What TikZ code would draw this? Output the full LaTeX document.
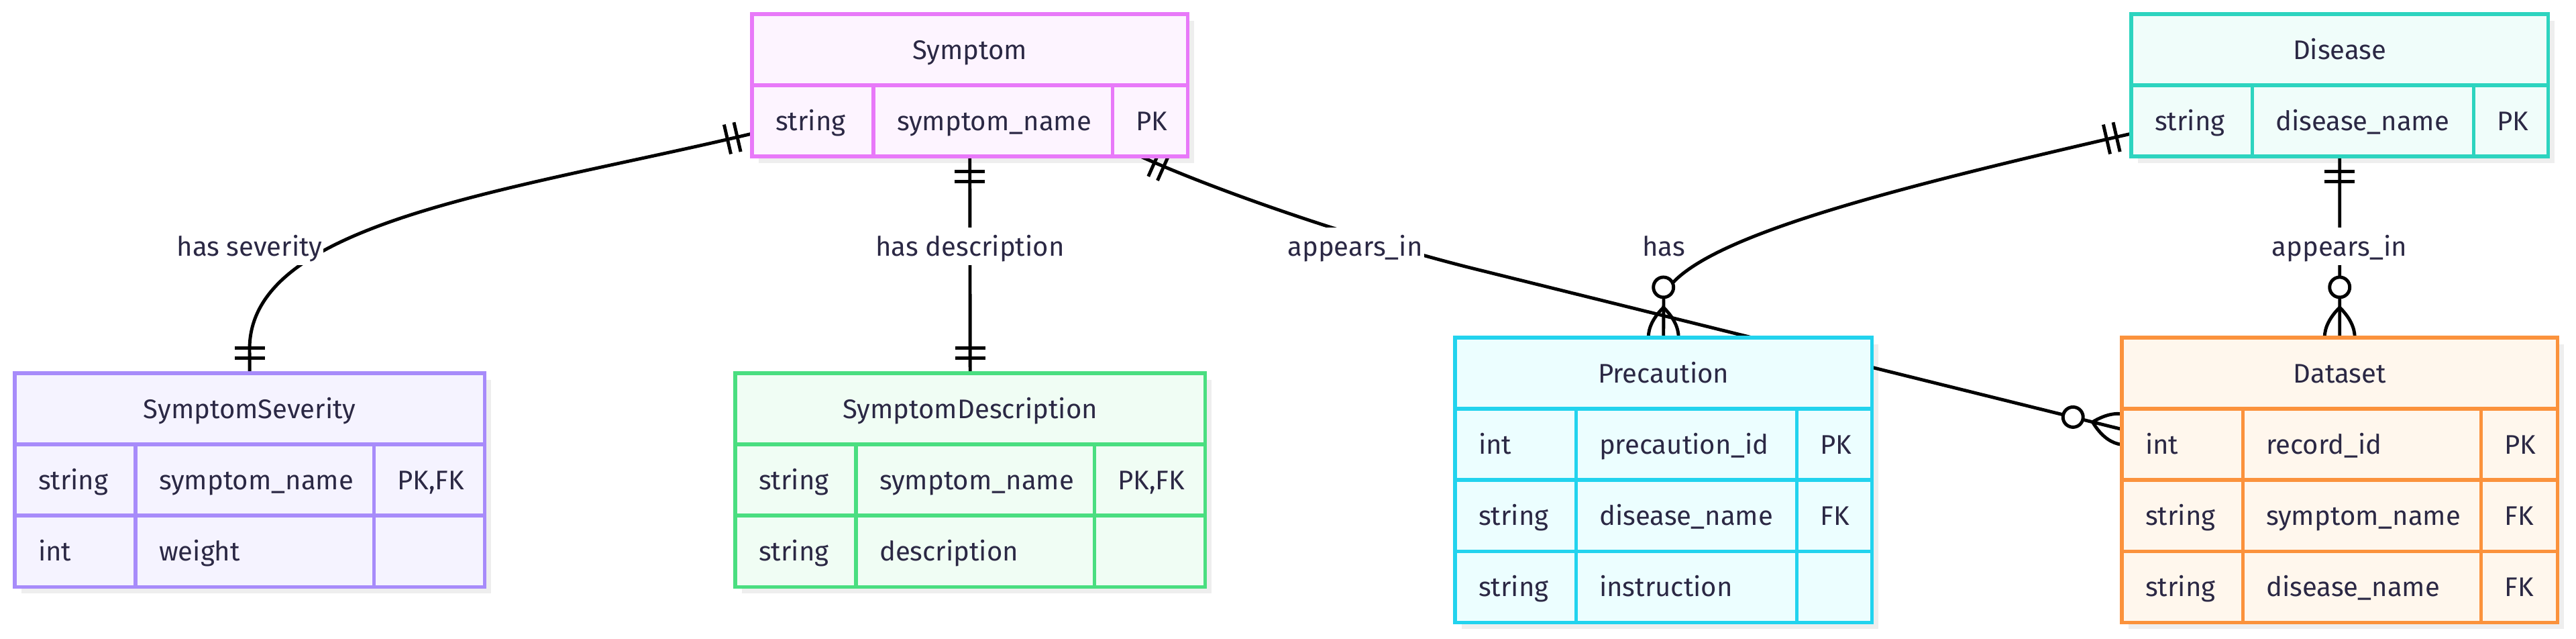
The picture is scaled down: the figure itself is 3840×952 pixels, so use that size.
\documentclass[tikz,border=0pt]{standalone}
\usepackage{fontspec}
\setmainfont{Fira Sans}

\definecolor{inkc}{HTML}{2B2844}
\definecolor{symline}{HTML}{E879F9}
\definecolor{symfill}{HTML}{FDF4FF}
\definecolor{disline}{HTML}{2DD4BF}
\definecolor{disfill}{HTML}{F0FDFA}
\definecolor{sevline}{HTML}{A78BFA}
\definecolor{sevfill}{HTML}{F5F3FF}
\definecolor{dscline}{HTML}{4ADE80}
\definecolor{dscfill}{HTML}{F0FDF4}
\definecolor{preline}{HTML}{22D3EE}
\definecolor{prefill}{HTML}{ECFEFF}
\definecolor{datline}{HTML}{FB923C}
\definecolor{datfill}{HTML}{FFF7ED}
\definecolor{shadowc}{HTML}{EEEEEE}

\pgfdeclarelayer{shadow}
\pgfdeclarelayer{links}
\pgfsetlayers{shadow,links,main}

\tikzset{
  head/.style={anchor=north west, minimum width=#1, minimum height=1.06cm,
    text height=0.36cm, text depth=0.07cm, inner sep=0pt, outer sep=0pt,
    line width=1.5pt, text=inkc},
  cell/.style={anchor=north west, text width=#1, minimum height=1.06cm,
    text height=0.36cm, text depth=0.07cm, inner xsep=0.35cm, inner ysep=0pt,
    outer sep=0pt, align=left, line width=1.5pt, text=inkc},
  rel/.style={fill=white, inner xsep=0.02cm, inner ysep=0.06cm,
    text height=0.36cm, text depth=0.07cm, text=inkc},
  link/.style={line width=1.4pt},
  dropfill/.style={fill=shadowc},
  onlyone/.pic={
    \draw[link] (0.225cm,-0.225cm) -- (0.225cm,0.225cm)
                (0.375cm,-0.225cm) -- (0.375cm,0.225cm);
  },
  zeromany/.pic={
    \draw[link] (0.45cm,0cm) .. controls (0.15cm,0.3cm) and (-0.15cm,0.3cm) .. (-0.45cm,0cm)
                .. controls (-0.15cm,-0.3cm) and (0.15cm,-0.3cm) .. (0.45cm,0cm);
    \draw[link, fill=white] (0.75cm,0cm) circle (0.15cm);
  },
}

\begin{document}
\begin{tikzpicture}[x=0.01cm, y=-0.01cm, font=\fontsize{11.4}{13.7}\selectfont]
  \useasboundingbox (0,0) rectangle (3840,952);

  % Symptom
  \begin{scope}[every node/.append style={draw=symline, fill=symfill}]
    \node[head=6.49cm] (sym) at (1121,21) {Symptom};
    \node[cell=1.11cm] (sym-t) at (sym.south west) {string};
    \node[cell=2.86cm] (sym-n) at (sym-t.north east) {symptom\_name};
    \node[cell=0.42cm] (sym-k) at (sym-n.north east) {PK};
  \end{scope}

  % Disease
  \begin{scope}[every node/.append style={draw=disline, fill=disfill}]
    \node[head=6.21cm] (dis) at (3177,21) {Disease};
    \node[cell=1.10cm] (dis-t) at (dis.south west) {string};
    \node[cell=2.60cm] (dis-n) at (dis-t.north east) {disease\_name};
    \node[cell=0.41cm] (dis-k) at (dis-n.north east) {PK};
  \end{scope}

  % SymptomSeverity
  \begin{scope}[every node/.append style={draw=sevline, fill=sevfill}]
    \node[head=7.00cm] (sev) at (22,556) {SymptomSeverity};
    \node[cell=1.10cm] (sev-t1) at (sev.south west) {string};
    \node[cell=2.85cm] (sev-n1) at (sev-t1.north east) {symptom\_name};
    \node[cell=0.95cm] (sev-k1) at (sev-n1.north east) {PK,FK};
    \node[cell=1.10cm] (sev-t2) at (sev-t1.south west) {int};
    \node[cell=2.85cm] (sev-n2) at (sev-t2.north east) {weight};
    \node[cell=0.95cm] (sev-k2) at (sev-n2.north east) {};
  \end{scope}

  % SymptomDescription
  \begin{scope}[every node/.append style={draw=dscline, fill=dscfill}]
    \node[head=7.00cm] (sdesc) at (1096,556) {SymptomDescription};
    \node[cell=1.10cm] (sdesc-t1) at (sdesc.south west) {string};
    \node[cell=2.85cm] (sdesc-n1) at (sdesc-t1.north east) {symptom\_name};
    \node[cell=0.95cm] (sdesc-k1) at (sdesc-n1.north east) {PK,FK};
    \node[cell=1.10cm] (sdesc-t2) at (sdesc-t1.south west) {string};
    \node[cell=2.85cm] (sdesc-n2) at (sdesc-t2.north east) {description};
    \node[cell=0.95cm] (sdesc-k2) at (sdesc-n2.north east) {};
  \end{scope}

  % Precaution
  \begin{scope}[every node/.append style={draw=preline, fill=prefill}]
    \node[head=6.21cm] (pre) at (2169,503) {Precaution};
    \node[cell=1.10cm] (pre-t1) at (pre.south west) {int};
    \node[cell=2.59cm] (pre-n1) at (pre-t1.north east) {precaution\_id};
    \node[cell=0.42cm] (pre-k1) at (pre-n1.north east) {PK};
    \node[cell=1.10cm] (pre-t2) at (pre-t1.south west) {string};
    \node[cell=2.59cm] (pre-n2) at (pre-t2.north east) {disease\_name};
    \node[cell=0.42cm] (pre-k2) at (pre-n2.north east) {FK};
    \node[cell=1.10cm] (pre-t3) at (pre-t2.south west) {string};
    \node[cell=2.59cm] (pre-n3) at (pre-t3.north east) {instruction};
    \node[cell=0.42cm] (pre-k3) at (pre-n3.north east) {};
  \end{scope}

  % Dataset
  \begin{scope}[every node/.append style={draw=datline, fill=datfill}]
    \node[head=6.49cm] (dat) at (3163,503) {Dataset};
    \node[cell=1.10cm] (dat-t1) at (dat.south west) {int};
    \node[cell=2.85cm] (dat-n1) at (dat-t1.north east) {record\_id};
    \node[cell=0.44cm] (dat-k1) at (dat-n1.north east) {PK};
    \node[cell=1.10cm] (dat-t2) at (dat-t1.south west) {string};
    \node[cell=2.85cm] (dat-n2) at (dat-t2.north east) {symptom\_name};
    \node[cell=0.44cm] (dat-k2) at (dat-n2.north east) {FK};
    \node[cell=1.10cm] (dat-t3) at (dat-t2.south west) {string};
    \node[cell=2.85cm] (dat-n3) at (dat-t3.north east) {disease\_name};
    \node[cell=0.44cm] (dat-k3) at (dat-n3.north east) {FK};
  \end{scope}

  \begin{pgfonlayer}{shadow}
    \fill[dropfill] ([shift={(0.1cm,-0.1cm)}]sym.north west) rectangle ([shift={(0.1cm,-0.1cm)}]sym-k.south east);
    \fill[dropfill] ([shift={(0.1cm,-0.1cm)}]dis.north west) rectangle ([shift={(0.1cm,-0.1cm)}]dis-k.south east);
    \fill[dropfill] ([shift={(0.1cm,-0.1cm)}]sev.north west) rectangle ([shift={(0.1cm,-0.1cm)}]sev-k2.south east);
    \fill[dropfill] ([shift={(0.1cm,-0.1cm)}]sdesc.north west) rectangle ([shift={(0.1cm,-0.1cm)}]sdesc-k2.south east);
    \fill[dropfill] ([shift={(0.1cm,-0.1cm)}]pre.north west) rectangle ([shift={(0.1cm,-0.1cm)}]pre-k3.south east);
    \fill[dropfill] ([shift={(0.1cm,-0.1cm)}]dat.north west) rectangle ([shift={(0.1cm,-0.1cm)}]dat-k3.south east);
  \end{pgfonlayer}

  \begin{pgfonlayer}{links}
    % Symptom -- SymptomSeverity
    \coordinate (sev-a) at ([yshift=-0.19cm]sym-t.west);
    \draw[link] (sev-a) .. controls (760,285) and (372,330) .. (372,520) -- (sev.north);
    \node[rel] (l-sev) at (372,367) {has severity};
    \pic[rotate=193] at (sev-a) {onlyone};
    \pic[rotate=90] at (sev.north) {onlyone};

    % Symptom -- SymptomDescription
    \coordinate (dsc-a) at (sym.south |- sym-n.south);
    \draw[link] (dsc-a) -- (sdesc.north);
    \node[rel] (l-dsc) at (1446,367) {has description};
    \pic[rotate=-90] at (dsc-a) {onlyone};
    \pic[rotate=90] at (sdesc.north) {onlyone};

    % Symptom -- Dataset
    \coordinate (app-a) at ([xshift=-0.14cm]sym-k.south);
    \coordinate (app-b) at ([yshift=0.225cm]dat-t1.west);
    \draw[link] (app-a) .. controls (1836,294) and (2054,365) .. (2200,401) -- (app-b);
    \node[rel] (l-app) at (2020,367) {appears\_in};
    \pic[rotate=-24] at (app-a) {onlyone};
    \pic[rotate=166] at (app-b) {zeromany};

    % Disease -- Precaution
    \coordinate (has-a) at ([yshift=-0.19cm]dis-t.west);
    \draw[link] (has-a) .. controls (2780,290) and (2520,360) .. (2480,440) -- (pre.north);
    \node[rel] (l-has) at (2480,367) {has};
    \pic[rotate=193] at (has-a) {onlyone};
    \pic[rotate=90] at (pre.north) {zeromany};

    % Disease -- Dataset
    \coordinate (dap-a) at (dis.south |- dis-n.south);
    \draw[link] (dap-a) -- (dat.north);
    \node[rel] (l-dap) at (3487.5,367) {appears\_in};
    \pic[rotate=-90] at (dap-a) {onlyone};
    \pic[rotate=90] at (dat.north) {zeromany};
  \end{pgfonlayer}

\end{tikzpicture}
\end{document}
